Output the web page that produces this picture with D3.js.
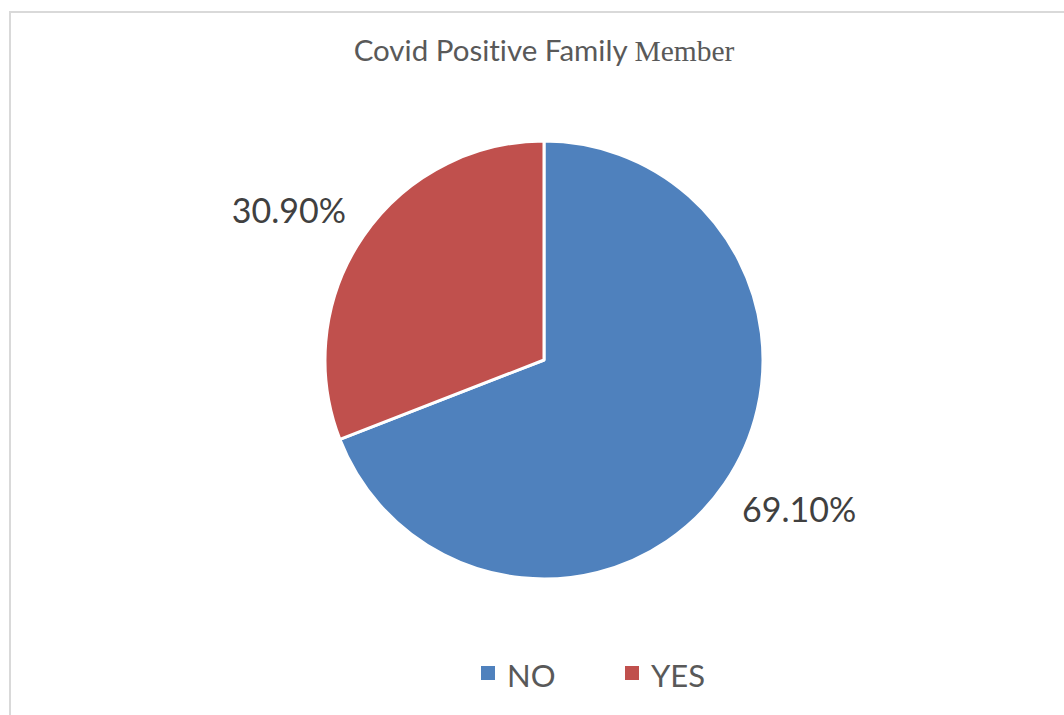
<!DOCTYPE html>
<html>
<head>
<meta charset="utf-8">
<script src="https://d3js.org/d3.v7.min.js"></script>
<style>
  body { margin: 0; background: #fff; }
  svg { display: block; }
  text { font-variant-ligatures: none; }
</style>
</head>
<body>
<div id="chart"></div>
<script>
const categories = ['NO', 'YES'];
const values = [69.10, 30.90];
const colors = ['#4f81bd', '#c0504d'];
const labelText = ['69.10%', '30.90%'];

const w = 1064, h = 715;
const cx = 544, cy = 360, r = 219;
const sans = 'Lato, "Open Sans", sans-serif';

const svg = d3.select('#chart').append('svg')
    .attr('width', w).attr('height', h);

// chart frame (only top and left visible)
svg.append('path')
    .attr('d', `M10,${h} L10,12 L${w},12`)
    .attr('fill', 'none')
    .attr('stroke', '#d9d9d9')
    .attr('stroke-width', 2);

// title, last word falls back to a serif face like the original
let title = svg.append('text')
    .attr('x', cx).attr('y', 61)
    .attr('text-anchor', 'middle')
    .attr('fill', '#595959')
    .attr('font-size', 29.5);
title.append('tspan').attr('font-family', sans).text('Covid Positive Family ');
title.append('tspan').attr('font-family', '"Liberation Serif", serif').text('Member');

let data = categories.map((c, i) => ({ name: c, value: values[i], color: colors[i], label: labelText[i] }));

let pie = d3.pie().value(d => d.value).sort(null);
let arc = d3.arc().innerRadius(0).outerRadius(r);

let g = svg.append('g').attr('transform', `translate(${cx},${cy})`);
let slices = pie(data);

g.selectAll('path.slice').data(slices).enter().append('path')
    .attr('class', 'slice')
    .attr('d', arc)
    .attr('fill', d => d.data.color)
    .attr('stroke', '#fff')
    .attr('stroke-width', 3)
    .attr('stroke-linejoin', 'round');

// outside-end labels, nudged a few degrees like the spreadsheet does
let labelPos = function (d) {
    let a = (d.startAngle + d.endAngle) / 2 - 4 * Math.PI / 180;
    let rr = r * 1.35;
    return [Math.sin(a) * rr, -Math.cos(a) * rr];
};

g.selectAll('text.lbl').data(slices).enter().append('text')
    .attr('class', 'lbl')
    .attr('transform', d => `translate(${labelPos(d)})`)
    .attr('text-anchor', 'middle')
    .attr('dy', '0.36em')
    .attr('font-family', sans)
    .attr('font-size', 34)
    .attr('fill', '#404040')
    .text(d => d.data.label);

// legend
let legendX = d3.scalePoint().domain(categories).range([481, 625]);
let legend = svg.append('g').selectAll('g').data(data).enter().append('g')
    .attr('transform', d => `translate(${legendX(d.name)},666)`);
legend.append('rect')
    .attr('width', 14).attr('height', 14)
    .attr('fill', d => d.color);
legend.append('text')
    .attr('x', 26).attr('y', 21)
    .attr('font-family', sans)
    .attr('font-size', 31)
    .attr('fill', '#595959')
    .text(d => d.name);
</script>
</body>
</html>
